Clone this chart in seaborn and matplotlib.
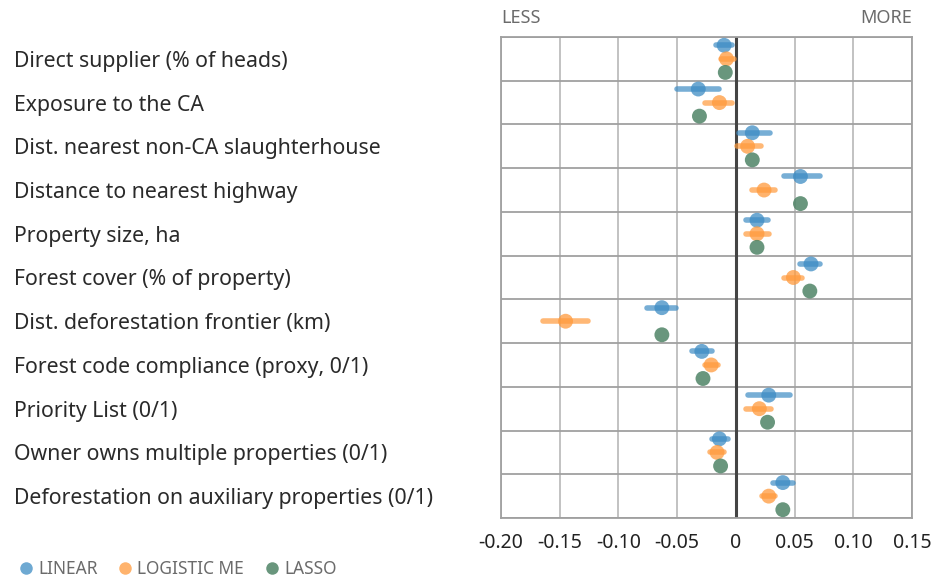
import numpy as np
import pandas as pd
import matplotlib
matplotlib.use("Agg")
import matplotlib.pyplot as plt
from matplotlib.lines import Line2D
import seaborn as sns

# variables (top to bottom)
variables = [
    "Direct supplier (% of heads)",
    "Exposure to the CA",
    "Dist. nearest non-CA slaughterhouse",
    "Distance to nearest highway",
    "Property size, ha",
    "Forest cover (% of property)",
    "Dist. deforestation frontier (km)",
    "Forest code compliance (proxy, 0/1)",
    "Priority List (0/1)",
    "Owner owns multiple properties (0/1)",
    "Deforestation on auxiliary properties (0/1)",
]

# estimates
linear_est = [-0.010, -0.032, 0.014, 0.055, 0.018, 0.064, -0.063, -0.029, 0.028, -0.014, 0.040]
linear_lo = [-0.017, -0.050, 0.003, 0.041, 0.009, 0.055, -0.076, -0.037, 0.010, -0.020, 0.032]
linear_hi = [-0.003, -0.014, 0.029, 0.072, 0.027, 0.072, -0.051, -0.020, 0.046, -0.007, 0.049]

logit_est = [-0.008, -0.014, 0.010, 0.024, 0.018, 0.049, -0.145, -0.021, 0.020, -0.016, 0.028]
logit_lo = [-0.013, -0.026, 0.001, 0.014, 0.009, 0.041, -0.164, -0.026, 0.009, -0.022, 0.022]
logit_hi = [-0.002, -0.003, 0.021, 0.033, 0.028, 0.056, -0.126, -0.015, 0.030, -0.010, 0.033]

lasso_est = [-0.009, -0.031, 0.014, 0.055, 0.018, 0.063, -0.063, -0.028, 0.027, -0.013, 0.040]

models = ["LINEAR", "LOGISTIC ME", "LASSO"]
x_ticks = [-0.20, -0.15, -0.10, -0.05, 0, 0.05, 0.10, 0.15]
x_tick_labels = ["-0.20", "-0.15", "-0.10", "-0.05", "0", "0.05", "0.10", "0.15"]

palette = {"LINEAR": "#3d8cc4", "LOGISTIC ME": "#ff9a3c", "LASSO": "#4f8466"}
alphas = {"LINEAR": 0.75, "LOGISTIC ME": 0.75, "LASSO": 0.85}
offsets = {"LINEAR": -0.31, "LOGISTIC ME": 0.0, "LASSO": 0.31}

rows = []
for i, v in enumerate(variables):
    rows.append(dict(var=v, model="LINEAR", est=linear_est[i], lo=linear_lo[i], hi=linear_hi[i], pos=i + offsets["LINEAR"]))
    rows.append(dict(var=v, model="LOGISTIC ME", est=logit_est[i], lo=logit_lo[i], hi=logit_hi[i], pos=i + offsets["LOGISTIC ME"]))
    rows.append(dict(var=v, model="LASSO", est=lasso_est[i], lo=np.nan, hi=np.nan, pos=i + offsets["LASSO"]))
df = pd.DataFrame(rows)

sns.set_style("white")
plt.rcParams["font.family"] = ["Noto Sans", "DejaVu Sans"]

fig = plt.figure(figsize=(9.33, 5.80), dpi=100)
ax = fig.add_axes([501 / 933, 1 - 518 / 580, (912 - 501) / 933, (518 - 37) / 580])

# confidence intervals
for m in ["LINEAR", "LOGISTIC ME"]:
    sub = df[df.model == m]
    ax.hlines(sub.pos, sub.lo, sub.hi, color=palette[m], alpha=0.7, lw=4, capstyle="round", zorder=3)

for m in models:
    sns.scatterplot(data=df[df.model == m], x="est", y="pos", color=palette[m], alpha=alphas[m],
                    s=115, edgecolor="none", ax=ax, zorder=4, legend=False)

ax.axvline(0, color="#444444", lw=2.2, zorder=2)

ax.set_xlim(-0.20, 0.15)
ax.set_ylim(len(variables) - 0.5, -0.5)
ax.set_xticks(x_ticks)
ax.set_xticklabels(x_tick_labels, fontsize=14, color="#222222")
ax.set_yticks(range(len(variables)))
ax.set_yticklabels(variables, fontsize=15.3, color="#2a2a2a", ha="left")
ax.set_yticks(np.arange(-0.5, len(variables), 1), minor=True)
ax.tick_params(axis="y", which="both", length=0, pad=487 * 72 / 100)
ax.tick_params(axis="x", length=0, pad=11)
ax.grid(True, axis="x", which="major", color="#bdbdbd", lw=1.3, zorder=0)
ax.grid(True, axis="y", which="minor", color="#a0a0a0", lw=1.3, zorder=0)
ax.grid(False, axis="y", which="major")
for s in ax.spines.values():
    s.set_color("#a0a0a0")
    s.set_linewidth(1.3)
ax.set_xlabel("")
ax.set_ylabel("")

fig.text(501 / 933, 1 - 18 / 580, "LESS", ha="left", va="center", fontsize=13, color="#6b6b6b")
fig.text(912 / 933, 1 - 18 / 580, "MORE", ha="right", va="center", fontsize=13, color="#6b6b6b")

handles = [Line2D([], [], marker="o", ls="", color=palette[m], alpha=alphas[m], markersize=9,
                  markeredgewidth=0, label=m) for m in models]
fig.legend(handles=handles, loc="center left", bbox_to_anchor=(0.011, 1 - 569 / 580), ncol=3,
           frameon=False, fontsize=12.5, labelcolor="#6b6b6b", handletextpad=0.2,
           columnspacing=1.1, borderaxespad=0, handlelength=1.0)

fig.savefig("out.png", dpi=100)
